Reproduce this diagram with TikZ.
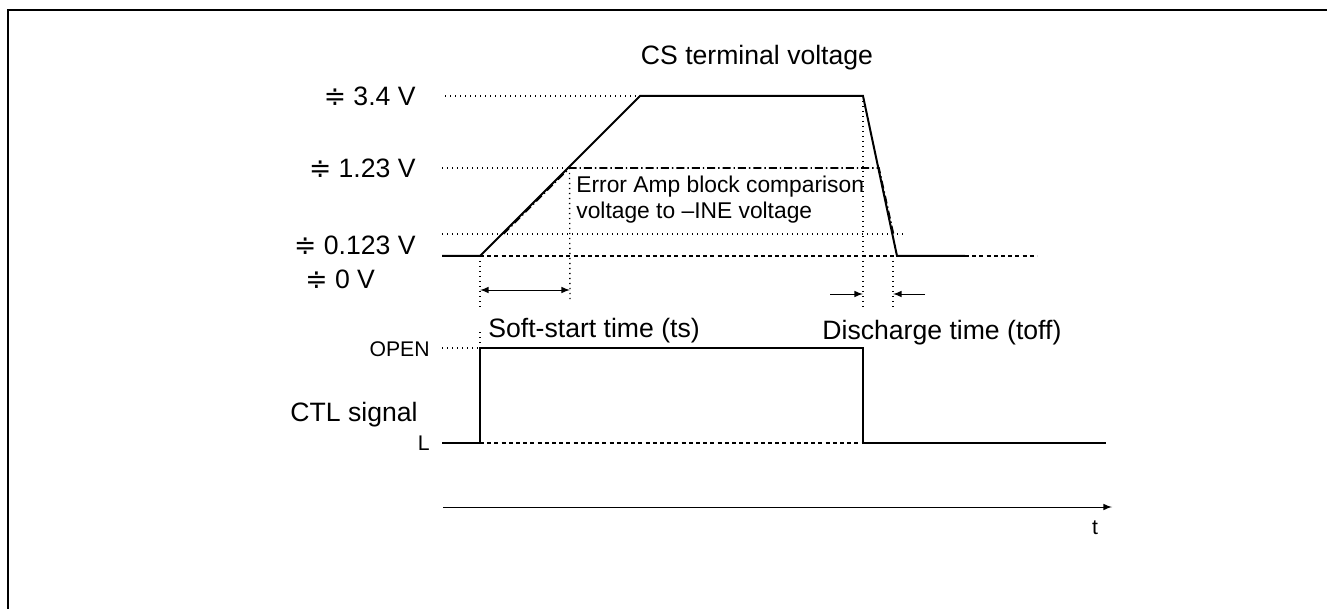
\documentclass[tikz,border=0pt]{standalone}
\usepackage{fontspec}
\setmainfont{Liberation Sans}
\newfontfamily\dvsans{DejaVu Sans}
\newcommand{\nearly}{{\dvsans ≑}}
\tikzstyle{wave}=[line width=1pt, line join=miter]
\tikzstyle{guide}=[line width=0.7pt, dash pattern=on 0.6pt off 1.9pt]
\tikzstyle{zeroline}=[line width=0.8pt, dash pattern=on 2pt off 1.6pt]
\tikzstyle{compare}=[line width=0.8pt, dash pattern=on 4pt off 1.5pt on 0.7pt off 1.5pt]
\tikzstyle{timespan}=[line width=0.5pt, >=latex]
\tikzstyle{bigtext}=[font=\fontsize{13.3}{16}\selectfont, inner sep=1pt]
\tikzstyle{midtext}=[font=\fontsize{11.4}{13}\selectfont, inner sep=1pt]
\tikzstyle{smalltext}=[font=\fontsize{10.6}{12}\selectfont, inner sep=1pt]

\begin{document}
\begin{tikzpicture}[x=0.5pt, y=-0.5pt]
\useasboundingbox (0,0) rectangle (1327,609);
\draw[line width=0.75pt] (8,609) -- (8,10) -- (1327,10);

% CS terminal voltage
\coordinate (cs_0) at (442,256);
\coordinate (cs_1) at (480,256);
\coordinate (cs_2) at (640,96);
\coordinate (cs_3) at (863,96);
\coordinate (cs_4) at (897,256);
\coordinate (cs_5) at (965,256);
\coordinate (cs_6) at (1037,256);
\coordinate (v34) at (445,96);
\coordinate (v123) at (442,168);
\coordinate (v0123) at (442,234);
\coordinate (v0123_end) at (903,234);
\coordinate (cmp_a) at (503.5,234);
\coordinate (cmp_b) at (569.5,168);
\coordinate (cmp_c) at (879,168);
\coordinate (cmp_d) at (893.5,234);

\node[bigtext] (cs_label) at (757,58) {CS terminal voltage};
\node[bigtext, anchor=east] (v34_label) at (418,96) {\nearly\ 3.4 V};
\node[bigtext, anchor=east] (v123_label) at (418,168) {\nearly\ 1.23 V};
\node[bigtext, anchor=east] (v0123_label) at (418,245) {\nearly\ 0.123 V};
\node[bigtext, anchor=west] (v0_label) at (303,279) {\nearly\ 0 V};
\node[midtext, anchor=west, align=left] (err_label) at (574,200) {Error Amp block comparison\\voltage to --INE voltage};

\draw[guide] (v34)--(cs_2);
\draw[guide] (v123)--(cmp_b);
\draw[guide] (v0123)--(v0123_end);
\draw[zeroline] (cs_1)--(cs_4);
\draw[zeroline] (cs_5)--(cs_6);
\draw[compare] (cmp_a)--(cmp_b)--(cmp_c)--(cmp_d);
\draw[wave] (cs_0)--(cs_1)--(cs_2)--(cs_3)--(cs_4)--(cs_5);

% time marks
\coordinate (ts_a) at (480,290);
\coordinate (ts_b) at (570,290);
\coordinate (toff_a) at (830,294);
\coordinate (toff_b) at (863,294);
\coordinate (toff_c) at (925,294);
\coordinate (toff_d) at (893,294);
\draw[guide] (cs_1)--(480,307);
\draw[guide] (cmp_b)--(570,300);
\draw[guide] (cs_3)--(863,307);
\draw[guide] (cs_4 -| toff_d)--(893,307);
\draw[timespan, <->] (ts_a)--(ts_b);
\draw[timespan, ->] (toff_a)--(toff_b);
\draw[timespan, ->] (toff_c)--(toff_d);
\node[bigtext, anchor=west] (ts_label) at (486,331) {Soft-start time (ts)};
\node[bigtext, anchor=west] (toff_label) at (820,333) {Discharge time (toff)};

% CTL signal
\coordinate (ctl_0) at (442,443);
\coordinate (ctl_1) at (480,443);
\coordinate (ctl_2) at (480,348);
\coordinate (ctl_3) at (863,348);
\coordinate (ctl_4) at (863,443);
\coordinate (ctl_5) at (1106,443);
\coordinate (open_0) at (442,348);
\node[smalltext, anchor=east] (open_label) at (432,349) {OPEN};
\node[smalltext, anchor=east] (l_label) at (432,443) {L};
\node[bigtext, anchor=east] (ctl_label) at (420,415) {CTL signal};
\draw[guide] (open_0)--(ctl_2);
\draw[guide] (ctl_2)--(480,330);
\draw[zeroline] (ctl_1)--(ctl_4);
\draw[wave] (ctl_0)--(ctl_1)--(ctl_2)--(ctl_3)--(ctl_4)--(ctl_5);

% time axis
\coordinate (axis_0) at (443,507);
\coordinate (axis_1) at (1112,507);
\draw[timespan, ->] (axis_0)--(axis_1);
\node[smalltext] (t_label) at (1095,528) {t};
\end{tikzpicture}
\end{document}
